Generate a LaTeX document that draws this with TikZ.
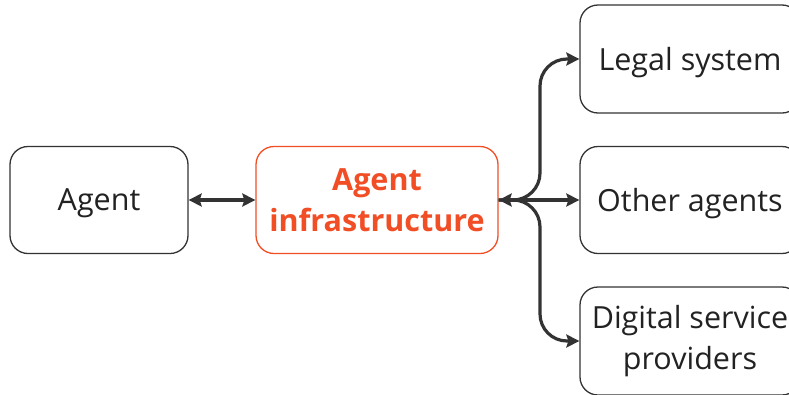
\documentclass[tikz,border=0pt]{standalone}
\usepackage{fontspec}
\setmainfont{Open Sans}
\usetikzlibrary{arrows.meta,calc}
\definecolor{ink}{RGB}{34,34,34}
\definecolor{edge}{RGB}{51,51,51}
\definecolor{accent}{RGB}{242,78,38}
\tikzset{
  box/.style={draw=edge, line width=1.3pt, rounded corners=18pt, fill=white,
    text=ink, align=center, font=\fontsize{30.5}{41}\selectfont, inner sep=0pt},
  onebox/.style={box, text depth=0pt},
  accentbox/.style={box, draw=accent, text=accent, font=\fontsize{30.5}{41}\selectfont\bfseries},
  link/.style={draw=edge, line width=3.2pt, rounded corners=27pt,
    arrows={-Stealth[length=13pt,width=13pt,inset=2pt]}},
  dlink/.style={link, arrows={Stealth[length=13pt,width=13pt,inset=2pt]-Stealth[length=13pt,width=13pt,inset=2pt]}}
}
\begin{document}
\begin{tikzpicture}[x=1pt,y=-1pt]
\useasboundingbox (0,0) rectangle (789,394);
\clip (0,0) rectangle (789,394);
\node[onebox, minimum width=178pt, minimum height=107pt] (agent) at (99,200) {Agent};
\node[accentbox, minimum width=242pt, minimum height=107pt] (infra) at (377,200) {Agent\\infrastructure};
\node[onebox, minimum width=220pt, minimum height=108pt] (legal) at (690,59) {Legal system};
\node[onebox, minimum width=220pt, minimum height=107pt] (other) at (690,200) {Other agents};
\node[box, minimum width=220pt, minimum height=108pt] (digital) at (690,341) {Digital service\\providers};
\coordinate (bx) at (540,0);
\draw[dlink] (agent.east) -- (infra.west);
\draw[link] (infra.east) -- (infra.east -| bx) |- (legal.west);
\draw[link] (infra.east) -- (infra.east -| bx) |- (digital.west);
\draw[dlink] (infra.east) -- (other.west);
\end{tikzpicture}
\end{document}
